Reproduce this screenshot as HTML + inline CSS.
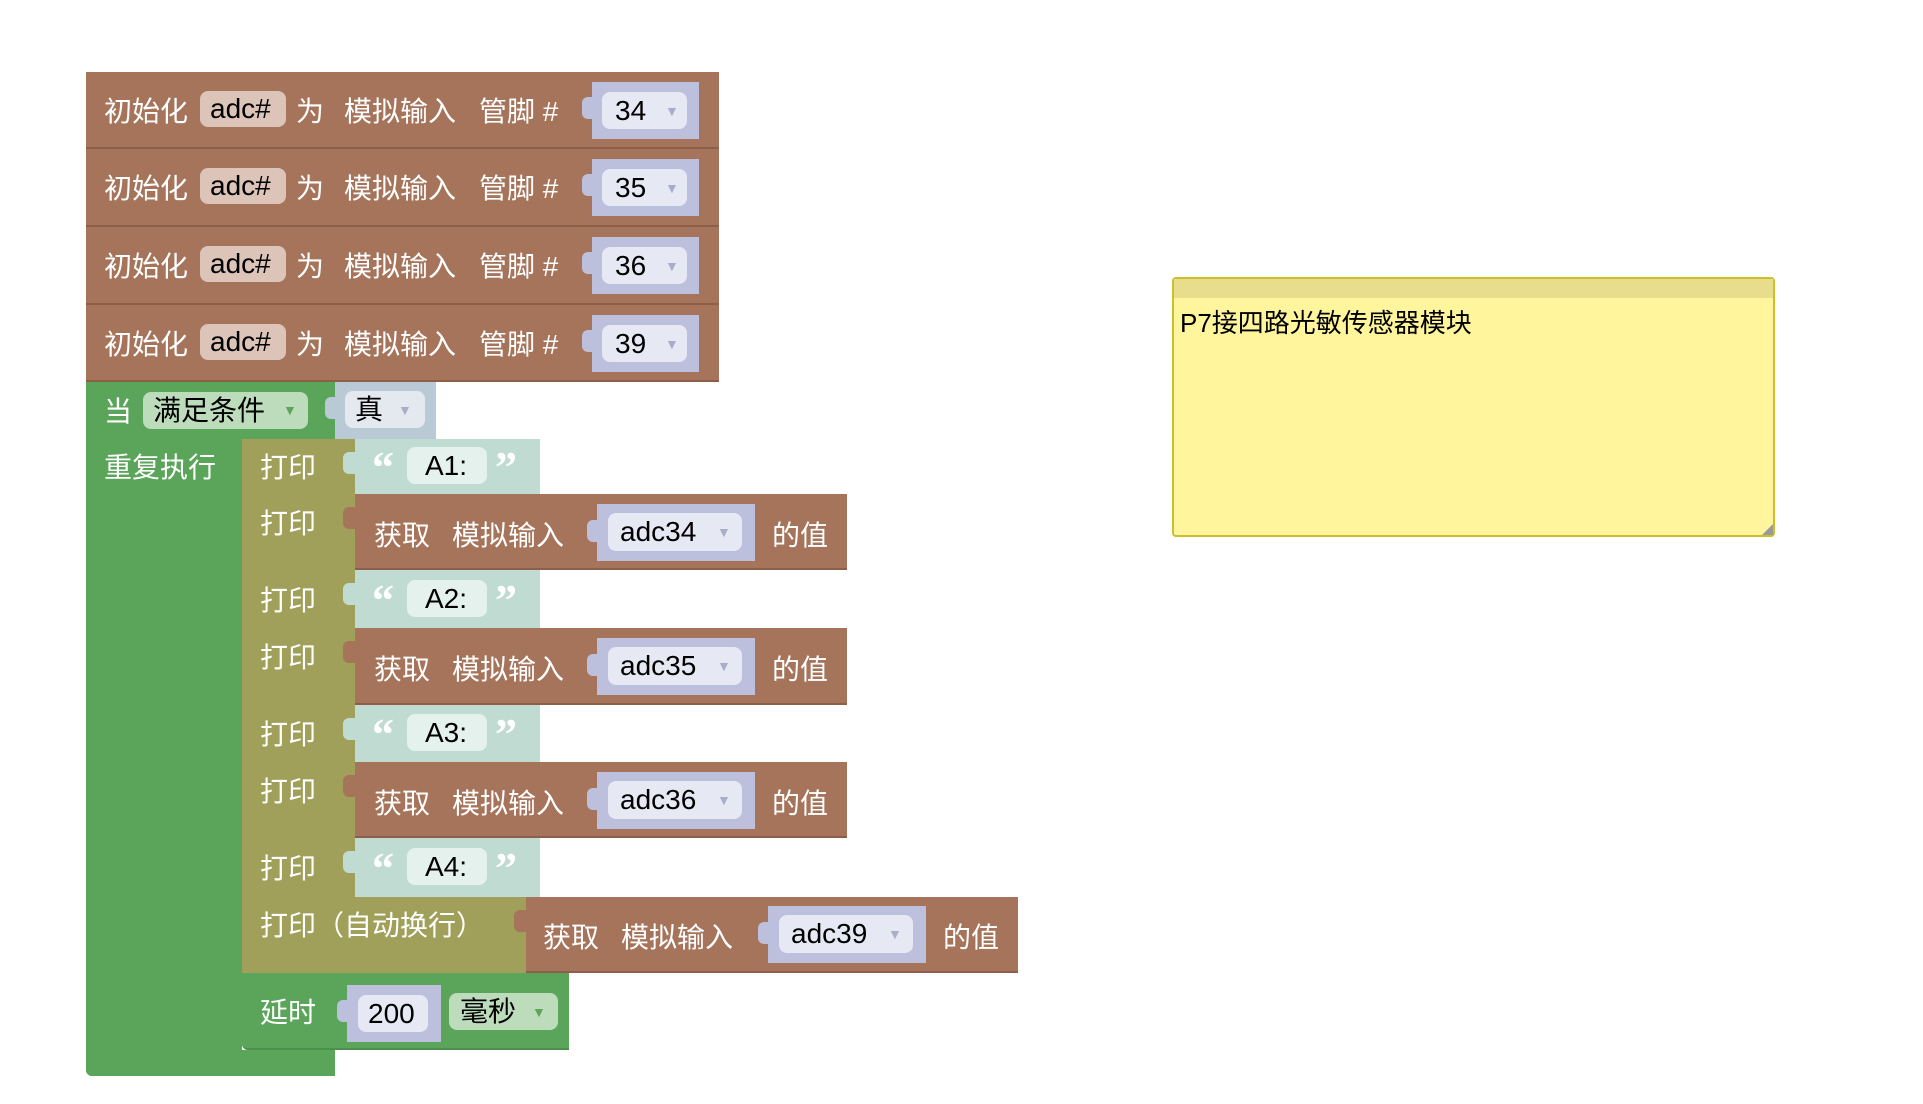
<!DOCTYPE html>
<html><head><meta charset="utf-8"><style>
body{margin:0;width:1923px;height:1104px;background:#fff;position:relative;overflow:hidden;font-family:"Liberation Sans","Noto Sans CJK SC",sans-serif;}
div{position:absolute;box-sizing:border-box;}
.b{background:#a5745a;border-bottom:2px solid #8e5f48;}
.g{background:#5ba55b;}
.o{background:#a0a05a;}
.t{color:#fff;font-size:28px;line-height:36px;white-space:nowrap;}
.k{color:#000;font-size:28px;line-height:36px;white-space:nowrap;}
.slot{background:#bcc0dc;}
.tab{background:#bcc0dc;width:12px;height:22px;border-radius:6px 0 0 6px;}
.fld{background:#e6e8f3;border-radius:8px;}
.str{background:#c0dcd2;}
.sf{background:#e4f1ec;border-radius:8px;}
.arr{color:#a9adc8;font-size:14px;}
.chip{background:#dcc4b9;border-radius:8px;}
.gc{background:#bcdcbc;border-radius:8px;}
.q{color:#fff;font-size:44px;line-height:44px;font-family:"Liberation Serif",serif;font-weight:bold;}
</style></head><body>

<div class="b" style="left:86px;top:72px;width:633px;height:77px;"></div>
<div class="b" style="left:86px;top:149px;width:633px;height:78px;"></div>
<div class="b" style="left:86px;top:227px;width:633px;height:78px;"></div>
<div class="b" style="left:86px;top:305px;width:633px;height:77px;"></div>

<div class="t" style="left:104px;top:94px;">初始化</div>
<div class="chip" style="left:200px;top:91px;width:86px;height:36px;"></div>
<div class="k" style="left:210px;top:91px;">adc#</div>
<div class="t" style="left:296px;top:94px;">为</div>
<div class="t" style="left:344px;top:94px;">模拟输入</div>
<div class="t" style="left:479px;top:94px;">管脚 #</div>
<div class="tab" style="left:582px;top:97px;"></div>
<div class="slot" style="left:592px;top:82px;width:107px;height:57px;"></div>
<div class="fld" style="left:602px;top:92px;width:85px;height:37px;"></div>
<div class="k" style="left:615px;top:93px;">34</div>
<div class="arr" style="left:665px;top:103px;">▼</div>

<div class="t" style="left:104px;top:171px;">初始化</div>
<div class="chip" style="left:200px;top:168px;width:86px;height:36px;"></div>
<div class="k" style="left:210px;top:168px;">adc#</div>
<div class="t" style="left:296px;top:171px;">为</div>
<div class="t" style="left:344px;top:171px;">模拟输入</div>
<div class="t" style="left:479px;top:171px;">管脚 #</div>
<div class="tab" style="left:582px;top:174px;"></div>
<div class="slot" style="left:592px;top:159px;width:107px;height:57px;"></div>
<div class="fld" style="left:602px;top:169px;width:85px;height:37px;"></div>
<div class="k" style="left:615px;top:170px;">35</div>
<div class="arr" style="left:665px;top:180px;">▼</div>

<div class="t" style="left:104px;top:249px;">初始化</div>
<div class="chip" style="left:200px;top:246px;width:86px;height:36px;"></div>
<div class="k" style="left:210px;top:246px;">adc#</div>
<div class="t" style="left:296px;top:249px;">为</div>
<div class="t" style="left:344px;top:249px;">模拟输入</div>
<div class="t" style="left:479px;top:249px;">管脚 #</div>
<div class="tab" style="left:582px;top:252px;"></div>
<div class="slot" style="left:592px;top:237px;width:107px;height:57px;"></div>
<div class="fld" style="left:602px;top:247px;width:85px;height:37px;"></div>
<div class="k" style="left:615px;top:248px;">36</div>
<div class="arr" style="left:665px;top:258px;">▼</div>

<div class="t" style="left:104px;top:327px;">初始化</div>
<div class="chip" style="left:200px;top:324px;width:86px;height:36px;"></div>
<div class="k" style="left:210px;top:324px;">adc#</div>
<div class="t" style="left:296px;top:327px;">为</div>
<div class="t" style="left:344px;top:327px;">模拟输入</div>
<div class="t" style="left:479px;top:327px;">管脚 #</div>
<div class="tab" style="left:582px;top:330px;"></div>
<div class="slot" style="left:592px;top:315px;width:107px;height:57px;"></div>
<div class="fld" style="left:602px;top:325px;width:85px;height:37px;"></div>
<div class="k" style="left:615px;top:326px;">39</div>
<div class="arr" style="left:665px;top:336px;">▼</div>

<div class="g" style="left:86px;top:382px;width:250px;height:57px;"></div>
<div class="g" style="left:86px;top:382px;width:156px;height:694px;border-radius:0 0 0 6px;"></div>
<div class="g" style="left:86px;top:1050px;width:249px;height:26px;border-radius:0 0 0 6px;"></div>
<div class="t" style="left:104px;top:394px;">当</div>
<div class="gc" style="left:143px;top:392px;width:165px;height:37px;"></div>
<div class="k" style="left:153px;top:393px;">满足条件</div>
<div style="left:283px;top:402px;color:#5ba55b;font-size:14px;">▼</div>
<div class="tab" style="left:325px;top:397px;background:#b9c9d6;"></div>
<div style="left:335px;top:382px;width:101px;height:57px;background:#b9c9d6;"></div>
<div style="left:345px;top:391px;width:80px;height:37px;background:#e4e9f0;border-radius:8px;"></div>
<div class="k" style="left:355px;top:392px;">真</div>
<div class="arr" style="left:398px;top:402px;">▼</div>
<div class="t" style="left:104px;top:450px;">重复执行</div>

<div class="o" style="left:242px;top:439px;width:113px;height:55px;"></div>
<div class="tab" style="left:343px;top:452px;background:#c0dcd2;"></div>
<div class="str" style="left:355px;top:439px;width:185px;height:55px;"></div>
<div class="t" style="left:260px;top:450px;">打印</div>
<div class="q" style="left:372px;top:446px;">“</div>
<div class="sf" style="left:407px;top:447px;width:80px;height:37px;"></div>
<div class="k" style="left:425px;top:448px;">A1:</div>
<div class="q" style="left:495px;top:446px;">”</div>

<div class="o" style="left:242px;top:494px;width:113px;height:76px;"></div>
<div class="tab" style="left:343px;top:507px;background:#a5745a;"></div>
<div class="b" style="left:355px;top:494px;width:492px;height:76px;"></div>
<div class="t" style="left:260px;top:506px;">打印</div>
<div class="t" style="left:374px;top:518px;">获取</div>
<div class="t" style="left:452px;top:518px;">模拟输入</div>
<div class="tab" style="left:587px;top:520px;"></div>
<div class="slot" style="left:597px;top:504px;width:158px;height:57px;"></div>
<div class="fld" style="left:608px;top:513px;width:134px;height:38px;"></div>
<div class="k" style="left:620px;top:514px;">adc34</div>
<div class="arr" style="left:717px;top:524px;">▼</div>
<div class="t" style="left:772px;top:518px;">的值</div>

<div class="o" style="left:242px;top:570px;width:113px;height:58px;"></div>
<div class="tab" style="left:343px;top:583px;background:#c0dcd2;"></div>
<div class="str" style="left:355px;top:570px;width:185px;height:58px;"></div>
<div class="t" style="left:260px;top:583px;">打印</div>
<div class="q" style="left:372px;top:579px;">“</div>
<div class="sf" style="left:407px;top:580px;width:80px;height:37px;"></div>
<div class="k" style="left:425px;top:581px;">A2:</div>
<div class="q" style="left:495px;top:579px;">”</div>

<div class="o" style="left:242px;top:628px;width:113px;height:77px;"></div>
<div class="tab" style="left:343px;top:641px;background:#a5745a;"></div>
<div class="b" style="left:355px;top:628px;width:492px;height:77px;"></div>
<div class="t" style="left:260px;top:640px;">打印</div>
<div class="t" style="left:374px;top:652px;">获取</div>
<div class="t" style="left:452px;top:652px;">模拟输入</div>
<div class="tab" style="left:587px;top:654px;"></div>
<div class="slot" style="left:597px;top:638px;width:158px;height:57px;"></div>
<div class="fld" style="left:608px;top:647px;width:134px;height:38px;"></div>
<div class="k" style="left:620px;top:648px;">adc35</div>
<div class="arr" style="left:717px;top:658px;">▼</div>
<div class="t" style="left:772px;top:652px;">的值</div>

<div class="o" style="left:242px;top:705px;width:113px;height:57px;"></div>
<div class="tab" style="left:343px;top:718px;background:#c0dcd2;"></div>
<div class="str" style="left:355px;top:705px;width:185px;height:57px;"></div>
<div class="t" style="left:260px;top:717px;">打印</div>
<div class="q" style="left:372px;top:713px;">“</div>
<div class="sf" style="left:407px;top:714px;width:80px;height:37px;"></div>
<div class="k" style="left:425px;top:715px;">A3:</div>
<div class="q" style="left:495px;top:713px;">”</div>

<div class="o" style="left:242px;top:762px;width:113px;height:76px;"></div>
<div class="tab" style="left:343px;top:775px;background:#a5745a;"></div>
<div class="b" style="left:355px;top:762px;width:492px;height:76px;"></div>
<div class="t" style="left:260px;top:774px;">打印</div>
<div class="t" style="left:374px;top:786px;">获取</div>
<div class="t" style="left:452px;top:786px;">模拟输入</div>
<div class="tab" style="left:587px;top:788px;"></div>
<div class="slot" style="left:597px;top:772px;width:158px;height:57px;"></div>
<div class="fld" style="left:608px;top:781px;width:134px;height:38px;"></div>
<div class="k" style="left:620px;top:782px;">adc36</div>
<div class="arr" style="left:717px;top:792px;">▼</div>
<div class="t" style="left:772px;top:786px;">的值</div>

<div class="o" style="left:242px;top:838px;width:113px;height:59px;"></div>
<div class="tab" style="left:343px;top:851px;background:#c0dcd2;"></div>
<div class="str" style="left:355px;top:838px;width:185px;height:59px;"></div>
<div class="t" style="left:260px;top:851px;">打印</div>
<div class="q" style="left:372px;top:847px;">“</div>
<div class="sf" style="left:407px;top:848px;width:80px;height:37px;"></div>
<div class="k" style="left:425px;top:849px;">A4:</div>
<div class="q" style="left:495px;top:847px;">”</div>

<div class="o" style="left:242px;top:897px;width:284px;height:76px;"></div>
<div class="tab" style="left:514px;top:910px;background:#a5745a;"></div>
<div class="b" style="left:526px;top:897px;width:492px;height:76px;"></div>
<div class="t" style="left:260px;top:908px;">打印（自动换行）</div>
<div class="t" style="left:543px;top:920px;">获取</div>
<div class="t" style="left:621px;top:920px;">模拟输入</div>
<div class="tab" style="left:758px;top:922px;"></div>
<div class="slot" style="left:768px;top:906px;width:158px;height:57px;"></div>
<div class="fld" style="left:779px;top:915px;width:134px;height:38px;"></div>
<div class="k" style="left:791px;top:916px;">adc39</div>
<div class="arr" style="left:888px;top:926px;">▼</div>
<div class="t" style="left:943px;top:920px;">的值</div>

<div class="g" style="left:242px;top:973px;width:327px;height:77px;border-radius:0 0 0 6px;border-bottom:2px solid #4d8f4d;"></div>
<div class="t" style="left:260px;top:995px;">延时</div>
<div class="tab" style="left:337px;top:1000px;"></div>
<div class="slot" style="left:347px;top:985px;width:94px;height:57px;"></div>
<div class="fld" style="left:358px;top:995px;width:70px;height:37px;"></div>
<div class="k" style="left:368px;top:996px;">200</div>
<div class="gc" style="left:449px;top:993px;width:109px;height:37px;"></div>
<div class="k" style="left:460px;top:994px;">毫秒</div>
<div style="left:532px;top:1004px;color:#5ba55b;font-size:14px;">▼</div>

<div style="left:1172px;top:277px;width:603px;height:260px;background:#fff59c;border:2px solid #cdbf2a;border-radius:4px;"></div>
<div style="left:1174px;top:279px;width:599px;height:19px;background:#e8dd8c;"></div>
<div style="left:1180px;top:305px;font-size:26px;line-height:36px;color:#000;white-space:nowrap;">P7接四路光敏传感器模块</div>
<div style="left:1762px;top:524px;width:0;height:0;border-left:11px solid transparent;border-bottom:11px solid #999;"></div>
</body></html>
